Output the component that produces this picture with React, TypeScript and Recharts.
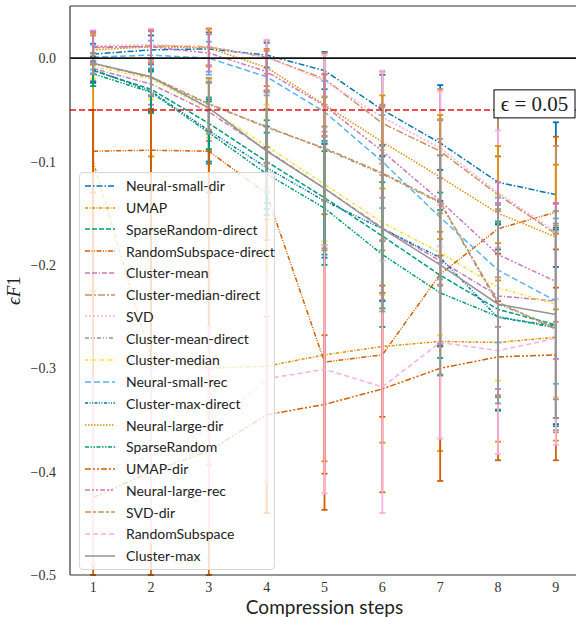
import { LineChart, Line, XAxis, YAxis, ErrorBar, ReferenceLine } from "recharts";

const steps = [1, 2, 3, 4, 5, 6, 7, 8, 9];
const yTicks = [-0.5, -0.4, -0.3, -0.2, -0.1, 0.0];

// mean eF1 per compression step
const neuralSmallDir = [0.004, 0.008, 0.009, 0.003, -0.012, -0.05, -0.082, -0.12, -0.132];
const umap = [-0.1, -0.29, -0.3, -0.298, -0.287, -0.279, -0.274, -0.275, -0.27];
const sparseRandomDirect = [-0.012, -0.03, -0.063, -0.1, -0.135, -0.172, -0.21, -0.243, -0.258];
const randomSubspaceDirect = [-0.09, -0.089, -0.09, -0.131, -0.294, -0.287, -0.209, -0.165, -0.149];
const clusterMean = [-0.01, -0.025, -0.052, -0.089, -0.126, -0.164, -0.196, -0.23, -0.235];
const clusterMedianDirect = [0.01, 0.012, 0.011, 0.001, -0.02, -0.063, -0.09, -0.132, -0.17];
const svd = [0.012, 0.013, 0.011, 0.001, -0.022, -0.057, -0.087, -0.13, -0.168];
const clusterMeanDirect = [-0.005, -0.019, -0.045, -0.066, -0.088, -0.112, -0.14, -0.238, -0.26];
const clusterMedian = [-0.008, -0.02, -0.049, -0.085, -0.122, -0.159, -0.188, -0.222, -0.238];
const neuralSmallRec = [0.001, 0.003, 0.0, -0.018, -0.052, -0.1, -0.154, -0.205, -0.235];
const clusterMaxDirect = [-0.011, -0.032, -0.07, -0.106, -0.138, -0.165, -0.193, -0.251, -0.259];
const neuralLargeDir = [0.008, 0.011, 0.01, -0.009, -0.045, -0.081, -0.115, -0.15, -0.173];
const sparseRandom = [-0.015, -0.033, -0.072, -0.112, -0.145, -0.19, -0.227, -0.25, -0.261];
const umapDir = [-0.425, -0.4, -0.38, -0.345, -0.335, -0.32, -0.3, -0.289, -0.287];
const neuralLargeRec = [0.011, 0.011, 0.005, -0.013, -0.046, -0.09, -0.138, -0.19, -0.216];
const svdDir = [-0.005, -0.018, -0.044, -0.067, -0.087, -0.111, -0.139, -0.236, -0.262];
const randomSubspace = [-0.4, -0.385, -0.36, -0.31, -0.301, -0.318, -0.275, -0.283, -0.271];
const clusterMax = [-0.005, -0.018, -0.048, -0.09, -0.126, -0.165, -0.2, -0.238, -0.248];

// error bar half-widths
const errNeuralSmallDir = [0.01, 0.014, 0.016, 0.012, 0.018, 0.034, 0.056, 0.065, 0.07];
const errUmap = [0.125, 0.195, 0.093, 0.142, 0.103, 0.093, 0.106, 0.096, 0.1];
const errSparseRandomDirect = [0.012, 0.02, 0.025, 0.04, 0.055, 0.07, 0.08, 0.085, 0.09];
const errRandomSubspaceDirect = [0.04, 0.04, 0.04, 0.045, 0.143, 0.06, 0.07, 0.07, 0.073];
const errClusterMean = [0.012, 0.02, 0.028, 0.04, 0.055, 0.07, 0.08, 0.09, 0.095];
const errClusterMedianDirect = [0.014, 0.016, 0.018, 0.016, 0.025, 0.05, 0.06, 0.08, 0.085];
const errSvd = [0.015, 0.015, 0.018, 0.017, 0.025, 0.045, 0.055, 0.06, 0.065];
const errClusterMeanDirect = [0.01, 0.018, 0.025, 0.035, 0.05, 0.065, 0.08, 0.09, 0.1];
const errClusterMedian = [0.012, 0.02, 0.028, 0.04, 0.055, 0.07, 0.08, 0.09, 0.09];
const errNeuralSmallRec = [0.012, 0.014, 0.016, 0.018, 0.03, 0.045, 0.06, 0.07, 0.08];
const errClusterMaxDirect = [0.012, 0.02, 0.03, 0.04, 0.055, 0.07, 0.085, 0.09, 0.095];
const errNeuralLargeDir = [0.014, 0.015, 0.018, 0.018, 0.03, 0.045, 0.06, 0.065, 0.07];
const errSparseRandom = [0.012, 0.02, 0.03, 0.04, 0.055, 0.07, 0.08, 0.09, 0.095];
const errUmapDir = [0.375, 0.35, 0.29, 0.095, 0.067, 0.1, 0.109, 0.1, 0.102];
const errNeuralLargeRec = [0.015, 0.016, 0.018, 0.02, 0.03, 0.045, 0.06, 0.07, 0.075];
const errSvdDir = [0.01, 0.018, 0.025, 0.035, 0.05, 0.065, 0.08, 0.09, 0.1];
const errRandomSubspace = [0.09, 0.085, 0.1, 0.1, 0.12, 0.122, 0.093, 0.1, 0.103];
const errClusterMax = [0.01, 0.018, 0.025, 0.04, 0.06, 0.08, 0.106, 0.096, 0.1];

const C = {
  blue: "#0173B2",
  orange: "#DE8F05",
  green: "#029E73",
  red: "#D55E00",
  purple: "#CC78BC",
  brown: "#CA9161",
  pink: "#FBAFE4",
  grey: "#949494",
  yellow: "#ECE133",
  sky: "#56B4E9",
};

const series = [
  { name: "Neural-small-dir", values: neuralSmallDir, err: errNeuralSmallDir, color: C.blue, dash: "6 2 1.5 2" },
  { name: "UMAP", values: umap, err: errUmap, color: C.orange, dash: "3 1.5 1 1.5" },
  { name: "SparseRandom-direct", values: sparseRandomDirect, err: errSparseRandomDirect, color: C.green, dash: "5 2" },
  { name: "RandomSubspace-direct", values: randomSubspaceDirect, err: errRandomSubspaceDirect, color: C.red, dash: "5 1.5 1 1.5 1 1.5" },
  { name: "Cluster-mean", values: clusterMean, err: errClusterMean, color: C.purple, dash: "5 2 5 2 1 2" },
  { name: "Cluster-median-direct", values: clusterMedianDirect, err: errClusterMedianDirect, color: C.brown, dash: "7 2 2 2" },
  { name: "SVD", values: svd, err: errSvd, color: C.pink, dash: "2 2" },
  { name: "Cluster-mean-direct", values: clusterMeanDirect, err: errClusterMeanDirect, color: C.grey, dash: "4 2 1 2 1 2" },
  { name: "Cluster-median", values: clusterMedian, err: errClusterMedian, color: C.yellow, dash: "3 2 1 2" },
  { name: "Neural-small-rec", values: neuralSmallRec, err: errNeuralSmallRec, color: C.sky, dash: "6 3" },
  { name: "Cluster-max-direct", values: clusterMaxDirect, err: errClusterMaxDirect, color: C.blue, dash: "3 1.5 1 1.5 1 1.5" },
  { name: "Neural-large-dir", values: neuralLargeDir, err: errNeuralLargeDir, color: C.orange, dash: "1.5 1.5" },
  { name: "SparseRandom", values: sparseRandom, err: errSparseRandom, color: C.green, dash: "4 1.5 1.5 1.5 1.5 1.5" },
  { name: "UMAP-dir", values: umapDir, err: errUmapDir, color: C.red, dash: "6 2 2 2 2 2" },
  { name: "Neural-large-rec", values: neuralLargeRec, err: errNeuralLargeRec, color: C.purple, dash: "5 2 2 2 2 2" },
  { name: "SVD-dir", values: svdDir, err: errSvdDir, color: C.brown, dash: "6 2 3 2" },
  { name: "RandomSubspace", values: randomSubspace, err: errRandomSubspace, color: C.pink, dash: "5 3" },
  { name: "Cluster-max", values: clusterMax, err: errClusterMax, color: C.grey, dash: undefined },
];

const Y_MIN = -0.5;
const Y_MAX = 0.0505;

// error bars are cut at the plot frame, as the axes clip them in the figure
const data = steps.map((step, i) => {
  const row: Record<string, any> = { step };
  series.forEach((s) => {
    const v = s.values[i];
    const e = s.err[i];
    row[s.name] = v;
    row[s.name + "_err"] = [Math.min(e, v - Y_MIN), Math.min(e, Y_MAX - v)];
  });
  return row;
});

const serif = "'Liberation Serif', 'DejaVu Serif', serif";
const sans = "Lato, 'Open Sans', sans-serif";

const fmt = (v: number) => (v < 0 ? "\u2212" : "") + Math.abs(v).toFixed(1);

const EpsLabel = (props: any) => {
  const { viewBox } = props;
  const right = viewBox.x + viewBox.width - 4;
  const cy = viewBox.y - 6;
  return (
    <g>
      <rect x={right - 81} y={cy - 14} width={81} height={28} fill="#fff" stroke="#000" strokeWidth={1} />
      <text x={right - 40.5} y={cy + 7} textAnchor="middle" fontFamily={serif} fontSize={21} fill="#222">
        {"\u03f5 = 0.05"}
      </text>
    </g>
  );
};

const YLabel = (props: any) => {
  const { viewBox } = props;
  const x = 20;
  const y = viewBox.y + viewBox.height / 2;
  return (
    <text x={x} y={y} transform={`rotate(-90 ${x} ${y})`} textAnchor="middle" fontFamily={serif} fontSize={19} fill="#222">
      <tspan fontStyle="italic">{"\u03f5F"}</tspan>
      <tspan>1</tspan>
    </text>
  );
};

export default function App() {
  return (
    <div style={{ position: "absolute", left: 0, top: 0, width: 576, height: 617, overflow: "hidden", background: "#fff" }}>
      <LineChart width={590} height={617} data={data} margin={{ top: 6, right: 11, bottom: 0, left: 0 }}>
        <XAxis
          dataKey="step"
          type="number"
          domain={[0.6, 9.4]}
          ticks={steps}
          allowDataOverflow
          height={42}
          tickLine={false}
          axisLine={{ stroke: "#333", strokeWidth: 1.2 }}
          tickMargin={1}
          tick={{ fontFamily: serif, fontSize: 14, fill: "#333" }}
          label={{ value: "Compression steps", position: "insideBottom", offset: 3, fontFamily: sans, fontSize: 19, fill: "#222" }}
        />
        <YAxis
          type="number"
          domain={[Y_MIN, Y_MAX]}
          ticks={yTicks}
          allowDataOverflow
          width={70}
          tickLine={false}
          axisLine={{ stroke: "#333", strokeWidth: 1.2 }}
          tickMargin={8}
          tickFormatter={fmt}
          tick={{ fontFamily: serif, fontSize: 14, fill: "#333" }}
          label={<YLabel />}
        />
        {series.map((s) => (
          <Line
            key={s.name}
            dataKey={s.name}
            stroke={s.color}
            strokeWidth={1.5}
            strokeDasharray={s.dash}
            dot={false}
            activeDot={false}
            isAnimationActive={false}
          >
            <ErrorBar
              dataKey={s.name + "_err"}
              direction="y"
              width={3}
              stroke={s.color}
              strokeWidth={1.8}
              isAnimationActive={false}
            />
          </Line>
        ))}
        <ReferenceLine y={0} stroke="#111" strokeWidth={1.8} />
        <ReferenceLine y={-0.05} stroke="#E8141B" strokeWidth={1.5} strokeDasharray="6 3" label={<EpsLabel />} />
        <ReferenceLine y={Y_MAX} stroke="#333" strokeWidth={1.2} />
      </LineChart>
      <div
        style={{
          position: "absolute",
          left: 79,
          top: 172,
          width: 196,
          padding: "2px 0",
          background: "rgba(255,255,255,0.8)",
          border: "1px solid #d8d8d8",
          borderRadius: 4,
          boxSizing: "border-box",
          fontFamily: sans,
          fontSize: 14,
          color: "#222",
        }}
      >
        {series.map((s) => (
          <div key={s.name} style={{ height: 21.75, display: "flex", alignItems: "center" }}>
            <svg width={46} height={10} style={{ flex: "none" }}>
              <line x1={5} y1={5} x2={35} y2={5} stroke={s.color} strokeWidth={1.5} strokeDasharray={s.dash} />
            </svg>
            <span style={{ whiteSpace: "nowrap" }}>{s.name}</span>
          </div>
        ))}
      </div>
    </div>
  );
}
